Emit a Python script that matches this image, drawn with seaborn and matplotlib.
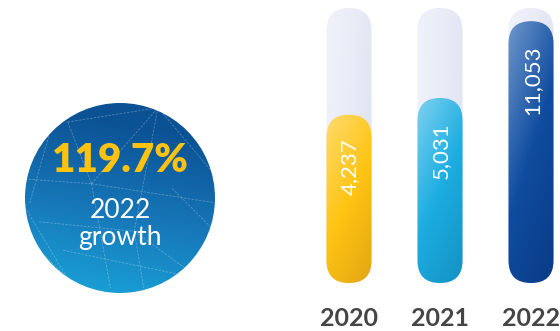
import numpy as np
import pandas as pd
import matplotlib
matplotlib.use("Agg")
import matplotlib.pyplot as plt
import seaborn as sns
from matplotlib.patches import FancyBboxPatch, Circle
from matplotlib.colors import LinearSegmentedColormap
from matplotlib.collections import LineCollection

# ---- data -------------------------------------------------------------
years = ["2020", "2021", "2022"]
users = [4237, 5031, 11053]
value_labels = ["4,237", "5,031", "11,053"]
growth_value = "119.7%"
growth_caption = ["2022", "growth"]

# gradient stops per bar: light top-left -> base -> dark bottom-right
bar_gradients = [
    ["#FFDB6E", "#FFC414", "#E2A613"],
    ["#7FD2F0", "#1CADE1", "#1591C2"],
    ["#7098CC", "#0F4C9F", "#0A3B85"],
]
track_gradient = ["#F0F2FB", "#E9ECF7", "#DFE2F0"]
disc_gradient = ["#0B5294", "#1778B9", "#1AA6DA"]

W, H = 560, 331

sns.set_theme(style="white")
plt.rcParams["font.family"] = ["Lato", "DejaVu Sans"]

fig = plt.figure(figsize=(W / 100, H / 100), dpi=100)
fig.patch.set_facecolor("white")

# ---- bar axes (seaborn) ----------------------------------------------
ax = fig.add_axes([303.5 / W, 48 / H, 273 / W, 275 / H])
df = pd.DataFrame({"year": years, "users": users})
sns.barplot(data=df, x="year", y="users", ax=ax, width=0.495, color="#cccccc")
ax.set_yscale("log")
ax.set_ylim(755, 12650)
ax.set_xlim(-0.5, 2.5)
ax.set_xlabel("")
ax.set_ylabel("")
ax.set_yticks([])
ax.yaxis.set_minor_locator(matplotlib.ticker.NullLocator())
for s in ax.spines.values():
    s.set_visible(False)
ax.patch.set_alpha(0)
ax.tick_params(axis="x", length=0, pad=17)
for lab in ax.get_xticklabels():
    lab.set_fontsize(18)
    lab.set_fontweight("bold")
    lab.set_color("#454545")

bars = list(ax.patches)
for b in bars:
    b.set_visible(False)

# ---- overlay in pixel coordinates -------------------------------------
ov = fig.add_axes([0, 0, 1, 1])
ov.set_xlim(0, W)
ov.set_ylim(H, 0)
ov.axis("off")
ov.patch.set_alpha(0)


def to_px(x, y):
    dx, dy = ax.transData.transform((x, y))
    return dx, H - dy


def gradient_image(colors, wx=0.35, wy=0.65, n=200):
    cmap = LinearSegmentedColormap.from_list("g", colors)
    u = np.linspace(0, 1, n)[None, :]
    v = np.linspace(0, 1, n)[:, None]
    t = np.clip(wx * u + wy * v, 0, 1)
    return cmap(t)


def pill(x0, y0, x1, y1, colors, wx=0.35, wy=0.65, z=2):
    w = x1 - x0
    patch = FancyBboxPatch((x0, y0), w, y1 - y0,
                           boxstyle=f"round,pad=0,rounding_size={w / 2}",
                           facecolor="none", edgecolor="none", zorder=z)
    ov.add_patch(patch)
    im = ov.imshow(gradient_image(colors, wx, wy), extent=(x0, x1, y1, y0),
                   origin="upper", interpolation="bilinear", aspect="auto", zorder=z)
    im.set_clip_path(patch)


y_floor, y_ceil = ax.get_ylim()
for b, val, lab, grad in zip(bars, users, value_labels, bar_gradients):
    xa, xb = b.get_x(), b.get_x() + b.get_width()
    px0, py_bottom = to_px(xa, y_floor)
    px1, py_top_track = to_px(xb, y_ceil)
    _, py_top = to_px(xa, val)
    # background track spanning the full axis
    pill(px0, py_top_track, px1, py_bottom, track_gradient, wx=0.8, wy=0.2, z=2)
    # value bar
    pill(px0, py_top, px1, py_bottom, grad, z=3)
    cx = (px0 + px1) / 2
    ov.text(cx + 1, py_top + 24, lab, rotation=90, ha="center", va="top",
            color="white", fontsize=16, fontweight="normal", zorder=5)

# ---- growth disc -------------------------------------------------------
ccx, ccy, r = 120, 198, 95
disc = Circle((ccx, ccy), r, facecolor="none", edgecolor="none", zorder=2)
ov.add_patch(disc)
dimg = gradient_image(disc_gradient, wx=-0.2, wy=1.0, n=300)
im = ov.imshow(dimg, extent=(ccx - r, ccx + r, ccy + r, ccy - r), origin="upper",
               interpolation="bilinear", aspect="auto", zorder=2)
im.set_clip_path(disc)

# faceted light lines over the disc (normalised to radius)
facets = [
    [(-0.55, -0.80), (-0.30, -0.15)],
    [(-0.55, -0.80), (0.40, -0.95)],
    [(-0.30, -0.15), (0.40, -0.95)],
    [(-1.00, -0.20), (-0.30, -0.15)],
    [(-0.30, -0.15), (1.00, 0.05)],
    [(0.40, -0.95), (0.15, 0.35)],
    [(0.40, -0.95), (0.95, -0.30)],
    [(-0.30, -0.15), (-0.10, 0.95)],
    [(-0.85, 0.25), (0.15, 0.35)],
    [(0.15, 0.35), (0.70, 0.75)],
    [(0.15, 0.35), (0.25, 0.95)],
    [(-0.95, 0.45), (-0.55, 0.85)],
    [(-1.00, 0.10), (-0.55, 0.85)],
    [(0.55, -0.10), (1.00, 0.35)],
    [(0.70, 0.75), (1.00, 0.30)],
    [(-0.60, 0.55), (0.60, 0.80)],
    [(-0.75, -0.65), (-0.95, 0.05)],
]
segs = [[(ccx + a * r, ccy + b * r), (ccx + c * r, ccy + d * r)] for (a, b), (c, d) in facets]
lc = LineCollection(segs, colors="white", linewidths=0.6, alpha=0.28,
                    linestyles=(0, (3, 1.5)), zorder=3)
ov.add_collection(lc)
lc.set_clip_path(disc)

ov.text(ccx, 160, growth_value, ha="center", va="center", color="#FFC20E",
        fontsize=29, fontweight="heavy", zorder=5)
ov.text(ccx, 210, growth_caption[0], ha="center", va="center", color="white",
        fontsize=19, fontweight="normal", zorder=5)
ov.text(ccx, 237, growth_caption[1], ha="center", va="center", color="white",
        fontsize=19, fontweight="normal", zorder=5)

ov.set_xlim(0, W)
ov.set_ylim(H, 0)

fig.savefig("out.png", dpi=100)
